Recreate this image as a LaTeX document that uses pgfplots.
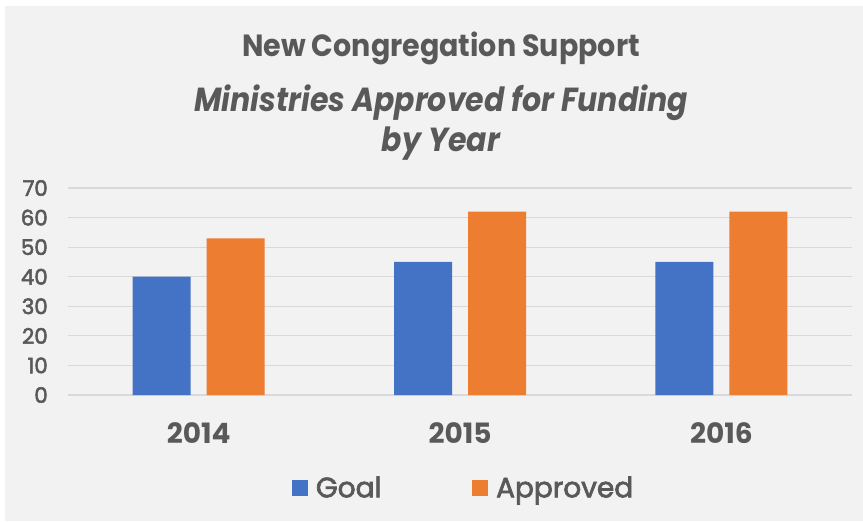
\documentclass[border=0pt]{standalone}
\usepackage{pgfplots}
\pgfplotsset{compat=1.18}
\usepackage{fontspec}
\setmainfont{Poppins}
\newfontfamily\titlefont[FakeStretch=0.93]{Poppins}
\newfontfamily\subfont[FakeStretch=0.9]{Poppins}
\newfontfamily\medfont[FakeBold=2.5]{Poppins}
\definecolor{cblue}{HTML}{4472C4}
\definecolor{corange}{HTML}{ED7D31}
\definecolor{txt}{HTML}{595959}
\definecolor{gridc}{HTML}{D9D9D9}
\definecolor{bgc}{HTML}{F2F2F2}
\pgfplotstableread{
x goal approved
0 40 53
1 45 62
2 45 62
}\datatable
\begin{document}
\begin{tikzpicture}
\fill[white] (0pt,0pt) rectangle (647.25pt,390.75pt);
\fill[bgc] (3.75pt,0pt) rectangle (647.25pt,386.25pt);
\node[text=txt, font=\titlefont\fontsize{23}{28}\selectfont\bfseries, anchor=base, inner sep=0pt] at (330.75pt,348pt) {New Congregation Support};
\node[text=txt, font=\subfont\fontsize{25}{30}\selectfont\bfseries\itshape, anchor=base, inner sep=0pt] at (330.75pt,306.75pt) {Ministries Approved for Funding};
\node[text=txt, font=\subfont\fontsize{25}{30}\selectfont\bfseries\itshape, anchor=base, inner sep=0pt] at (330.75pt,276.75pt) {by Year};
\begin{axis}[
  at={(51pt,94.5pt)}, anchor=south west,
  scale only axis, width=588pt, height=155.25pt,
  xmin=-0.5, xmax=2.5, ymin=0, ymax=70,
  ytick={0,10,...,70},
  xtick={0,1,2}, xticklabels={2014,2015,2016},
  ymajorgrids, grid style={draw=gridc, line width=0.9pt},
  axis line style={draw=none},
  major tick length=0pt,
  /pgf/number format/assume math mode=true,
  yticklabel style={font=\medfont\fontsize{16}{18}\selectfont, text=txt, inner sep=0pt, anchor=east, xshift=-15pt},
  xticklabel style={font=\fontsize{21}{24}\selectfont\bfseries, text=txt, inner sep=0pt, anchor=base, yshift=-36pt},
  ybar, bar width=43.5pt,
  legend style={at={(0.505,-0.449)}, anchor=center, draw=none, fill=none,
    legend columns=2, font=\medfont\fontsize{21}{24}\selectfont, text=txt,
    /tikz/every odd column/.append style={column sep=4pt},
    /tikz/every even column/.append style={column sep=66pt}},
  legend image code/.code={\path[#1] (0pt,-6pt) rectangle (12pt,6pt);},
]
\addplot[fill=cblue, draw=none, bar shift=-27.75pt] table[x=x, y=goal] {\datatable};
\addplot[fill=corange, draw=none, bar shift=27.75pt] table[x=x, y=approved] {\datatable};
\legend{Goal, Approved}
\end{axis}
\end{tikzpicture}
\end{document}
